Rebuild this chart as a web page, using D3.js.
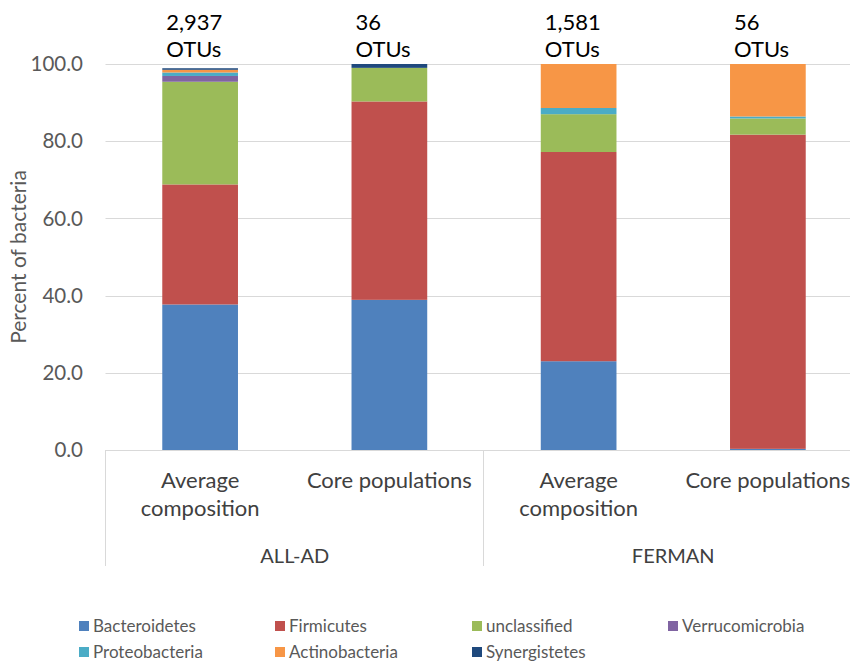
<!DOCTYPE html>
<html>
<head>
<meta charset="utf-8">
<script src="https://cdn.jsdelivr.net/npm/d3@7"></script>
<style>
  html, body { margin: 0; padding: 0; background: #ffffff; }
  svg { display: block; font-family: Lato, "Liberation Sans", sans-serif; }
</style>
</head>
<body>
<svg id="chart" width="850" height="661"></svg>
<script>
// Sample groups and the two bars drawn for each
const groups = ["ALL-AD", "FERMAN"];
const categories = ["Average composition", "Core populations", "Average composition", "Core populations"];
const categoryGroup = ["ALL-AD", "ALL-AD", "FERMAN", "FERMAN"];
const otuCounts = ["2,937", "36", "1,581", "56"];

// Phyla, in stacking order from the bottom
const phyla = ["Bacteroidetes", "Firmicutes", "unclassified", "Verrucomicrobia", "Proteobacteria", "Actinobacteria", "Synergistetes"];
const phylumColors = ["#4f81bd", "#c0504d", "#9bbb59", "#8064a2", "#4bacc6", "#f79646", "#1f497d"];

// Percent of bacteria per phylum, one entry per bar
const bacteroidetes   = [37.7, 38.9, 23.0, 0.3];
const firmicutes      = [31.1, 51.4, 54.2, 81.4];
const unclassified    = [26.6,  8.7,  9.8,  4.2];
const verrucomicrobia = [ 1.5,  0.0,  0.0,  0.0];
const proteobacteria  = [ 0.9,  0.0,  1.6,  0.5];
const actinobacteria  = [ 0.7,  0.0, 11.4, 13.6];
const synergistetes   = [ 0.4,  1.0,  0.0,  0.0];

const yTicks = [0, 20, 40, 60, 80, 100];

const seriesValues = [bacteroidetes, firmicutes, unclassified, verrucomicrobia, proteobacteria, actinobacteria, synergistetes];
const rows = categories.map((c, i) => {
  const r = { idx: i };
  phyla.forEach((p, k) => { r[p] = seriesValues[k][i]; });
  return r;
});

const svg = d3.select("#chart");
const plotLeft = 105.5, plotRight = 862.5, plotTop = 64, plotBottom = 450;

const x = d3.scaleBand().domain(d3.range(categories.length)).range([plotLeft, plotRight]).padding(0);
const y = d3.scaleLinear().domain([0, 100]).range([plotBottom, plotTop]);
const color = d3.scaleOrdinal().domain(phyla).range(phylumColors);
const barFrac = 0.4;
const bw = x.bandwidth() * barFrac;
const bx = i => x(i) + (x.bandwidth() - bw) / 2;

// Horizontal gridlines
svg.append("g").selectAll("line").data(yTicks).join("line")
  .attr("x1", plotLeft).attr("x2", 850)
  .attr("y1", d => Math.round(y(d)) + 0.5).attr("y2", d => Math.round(y(d)) + 0.5)
  .attr("stroke", "#d9d9d9").attr("stroke-width", 1);

// Y axis labels
svg.append("g").selectAll("text").data(yTicks).join("text")
  .attr("x", 83).attr("y", d => y(d)).attr("dy", "0.35em")
  .attr("text-anchor", "end").attr("font-size", 20.5).attr("fill", "#595959")
  .text(d => d3.format(".1f")(d));

// Y axis title
svg.append("text")
  .attr("transform", `translate(26,${(plotTop + plotBottom) / 2}) rotate(-90)`)
  .attr("text-anchor", "middle").attr("font-size", 21).attr("fill", "#595959")
  .text("Percent of bacteria");

// Stacked bars
const stacked = d3.stack().keys(phyla)(rows);
svg.append("g").selectAll("g").data(stacked).join("g")
  .attr("fill", d => color(d.key))
  .selectAll("rect").data(d => d).join("rect")
  .attr("x", d => bx(d.data.idx))
  .attr("width", bw)
  .attr("y", d => y(d[1]))
  .attr("height", d => Math.max(0, y(d[0]) - y(d[1])));

// Baseline
svg.append("line")
  .attr("x1", plotLeft).attr("x2", 850).attr("y1", plotBottom + 0.5).attr("y2", plotBottom + 0.5)
  .attr("stroke", "#d9d9d9");

// Group separators on the category axis
const groupEdges = [x(0), x(2), x(3) + x.bandwidth()];
svg.append("g").selectAll("line").data(groupEdges).join("line")
  .attr("x1", d => Math.round(d) - 0.5).attr("x2", d => Math.round(d) - 0.5)
  .attr("y1", plotBottom).attr("y2", 566)
  .attr("stroke", "#d9d9d9");

// Category labels (wrapped)
const catG = svg.append("g").attr("font-size", 22).attr("fill", "#404040").attr("text-anchor", "middle");
categories.forEach((c, i) => {
  const lines = c === "Average composition" ? ["Average", "composition"] : [c];
  lines.forEach((ln, j) => {
    catG.append("text")
      .attr("x", x(i) + x.bandwidth() / 2)
      .attr("y", 488 + j * 28)
      .text(ln);
  });
});

// Group labels
groups.forEach(g => {
  const idx = categoryGroup.map((cg, i) => cg === g ? i : -1).filter(i => i >= 0);
  const cx = (x(idx[0]) + x(idx[idx.length - 1]) + x.bandwidth()) / 2;
  svg.append("text")
    .attr("x", cx).attr("y", 563)
    .attr("text-anchor", "middle").attr("font-size", 20).attr("fill", "#404040")
    .text(g);
});

// OTU count annotations above bars
otuCounts.forEach((n, i) => {
  const t = svg.append("text").attr("font-size", 22).attr("fill", "#000");
  t.append("tspan").attr("x", bx(i) + 4).attr("y", 30).text(n);
  t.append("tspan").attr("x", bx(i) + 4).attr("y", 57).text("OTUs");
});

// Legend
const legendX = [79, 275, 472, 668];
const legend = svg.append("g").attr("font-size", 17).attr("fill", "#595959");
phyla.forEach((p, k) => {
  const col = k % 4, row = Math.floor(k / 4);
  const lx = legendX[col], ly = 626 + row * 26;
  legend.append("rect")
    .attr("x", lx).attr("y", ly - 5).attr("width", 10).attr("height", 10)
    .attr("fill", color(p));
  legend.append("text")
    .attr("x", lx + 14).attr("y", ly).attr("dy", "0.35em")
    .text(p);
});
</script>
</body>
</html>
